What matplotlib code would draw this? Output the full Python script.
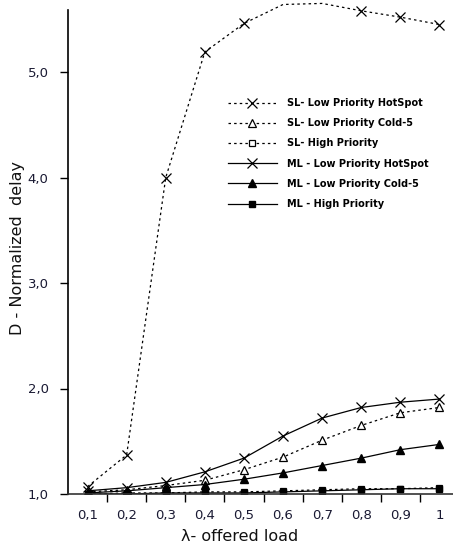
import matplotlib
matplotlib.use("Agg")
import matplotlib.pyplot as plt
import numpy as np

load_labels = ["0,1", "0,2", "0,3", "0,4", "0,5", "0,6", "0,7", "0,8", "0,9", "1"]
sl_low_hotspot = [1.07, 1.37, 4.00, 5.19, 5.46, 5.64, 5.65, 5.58, 5.52, 5.45]
sl_low_cold5 = [1.02, 1.04, 1.08, 1.13, 1.23, 1.35, 1.51, 1.65, 1.77, 1.82]
sl_high = [1.00, 1.01, 1.01, 1.02, 1.02, 1.03, 1.04, 1.05, 1.05, 1.06]
ml_low_hotspot = [1.03, 1.06, 1.11, 1.21, 1.34, 1.55, 1.72, 1.82, 1.87, 1.90]
ml_low_cold5 = [1.01, 1.03, 1.06, 1.09, 1.14, 1.20, 1.27, 1.34, 1.42, 1.47]
ml_high = [1.00, 1.00, 1.01, 1.01, 1.01, 1.02, 1.03, 1.04, 1.05, 1.05]
series_labels = ["SL- Low Priority HotSpot", "SL- Low Priority Cold-5", "SL- High Priority",
                 "ML - Low Priority HotSpot", "ML - Low Priority Cold-5", "ML - High Priority"]
y_ticks = [1.0, 2.0, 3.0, 4.0, 5.0]
y_tick_labels = ["1,0", "2,0", "3,0", "4,0", "5,0"]

plt.rcParams['font.family'] = ['DejaVu Sans']

fig = plt.figure(figsize=(4.53, 5.47), dpi=100)
ax = fig.add_axes([68/453, 53/547, 391/453, 492/547])
x = np.arange(1, len(load_labels) + 1)

dots = (0, (2, 2.5))
# markers at the top edge are hidden in the reference (points at the plot-area boundary)
ax.plot(x, sl_low_hotspot, color='black', lw=0.9, ls=dots, marker='x', ms=7, mew=0.9,
        markevery=[0, 1, 2, 3, 4, 7, 8, 9], label=series_labels[0])
ax.plot(x, sl_low_cold5, color='black', lw=0.9, ls=dots, marker='^', ms=6, mfc='white', mew=0.9,
        label=series_labels[1])
ax.plot(x, sl_high, color='black', lw=0.9, ls=dots, marker='s', ms=5, mfc='white', mew=0.9,
        label=series_labels[2])
ax.plot(x, ml_low_hotspot, color='black', lw=0.9, ls='-', marker='x', ms=7, mew=0.9,
        label=series_labels[3])
ax.plot(x, ml_low_cold5, color='black', lw=0.9, ls='-', marker='^', ms=6,
        label=series_labels[4])
ax.plot(x, ml_high, color='black', lw=0.9, ls='-', marker='s', ms=5,
        label=series_labels[5])

ax.set_xlim(0.5, 10.5)
ax.set_ylim(1.0, 1 + 492/105.5)

ax.spines['top'].set_visible(False)
ax.spines['right'].set_visible(False)
ax.spines['left'].set_bounds(1.0, 1 + 484/105.5)
ax.spines['left'].set_linewidth(1.2)
ax.spines['bottom'].set_linewidth(1.2)
ax.spines['bottom'].set_color('#333333')

ax.set_yticks(y_ticks)
ax.set_yticklabels(y_tick_labels)
ax.set_xticks(x)
ax.set_xticklabels(load_labels)
ax.set_xticks(np.arange(1.5, 10.5, 1.0), minor=True)
ax.tick_params(axis='x', which='major', length=0, pad=11, labelsize=9.5, labelcolor='#1a1a33')
ax.tick_params(axis='x', which='minor', length=6, width=1.0, direction='out')
ax.tick_params(axis='y', which='major', length=6, width=1.0, direction='out', pad=8,
               labelsize=9.5, labelcolor='#1a1a33')

ax.set_ylabel("D - Normalized  delay", fontsize=11.5, labelpad=2, color='#111111')
ax.set_xlabel("λ- offered load", fontsize=11.5, labelpad=2, color='#111111')
ax.xaxis.set_label_coords((240-68)/391, -(529-494)/492)

ax.legend(loc='upper left', bbox_to_anchor=((228-68)/391, (494-98)/492), frameon=False,
          prop={'weight': 'bold', 'size': 7}, handlelength=5.0, handletextpad=1.1,
          labelspacing=1.05, borderpad=0, borderaxespad=0)

fig.savefig("out.png", dpi=100)
